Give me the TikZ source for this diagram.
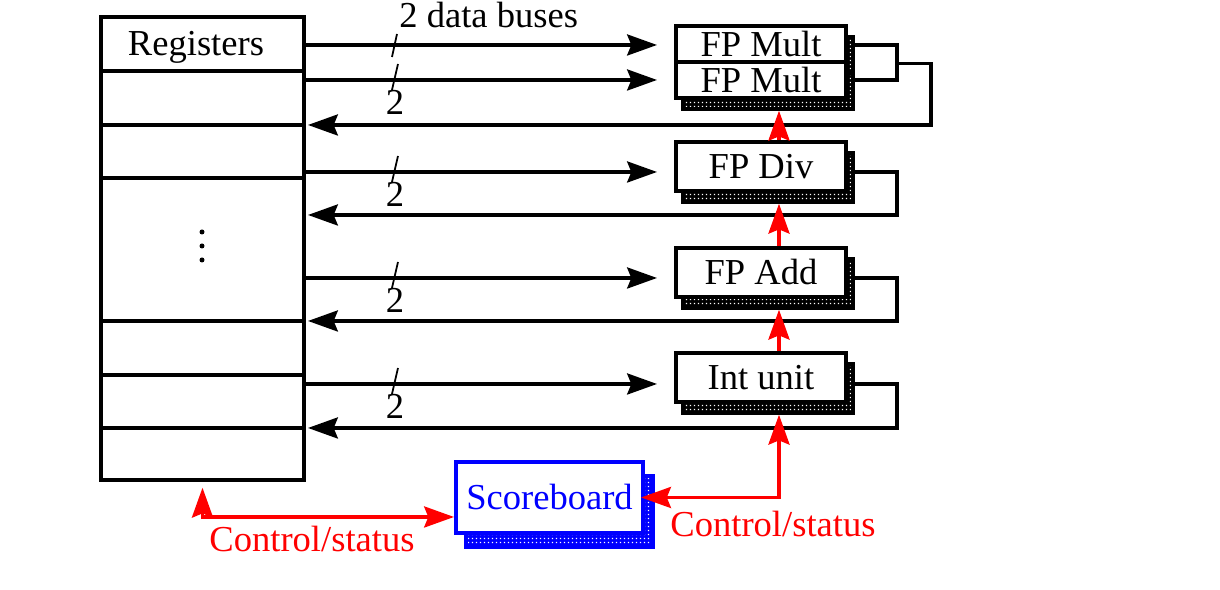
\documentclass[tikz,border=0pt]{standalone}
\usepackage{fontspec}
\setmainfont{Liberation Serif}
\usetikzlibrary{arrows.meta,shadows,patterns.meta}

\tikzdeclarepattern{
  name=speckle,
  type=uncolored,
  bottom left={(0pt,0pt)},
  top right={(1pt,1pt)},
  tile size={(1pt,1pt)},
  code={\fill (0.25pt,0.25pt) rectangle (0.7pt,0.7pt);}
}

\tikzset{
  tip/.tip={Stealth[length=8.5pt,width=6pt,inset=1.2pt]},
  unit/.style={draw, line width=1pt, fill=white, minimum width=1.7cm,
    minimum height=0.49cm, inner sep=0pt,
    general shadow={fill=black, shadow xshift=.07cm, shadow yshift=-.11cm},
    general shadow={pattern=speckle, pattern color=white, draw=black,
      line width=1.2pt, shadow xshift=.07cm, shadow yshift=-.11cm}},
  board/.style={draw=blue, text=blue, line width=1.2pt, fill=white,
    minimum width=1.87cm, minimum height=0.71cm, inner sep=0pt,
    general shadow={fill=blue, shadow xshift=.10cm, shadow yshift=-.14cm},
    general shadow={pattern=speckle, pattern color=white, draw=blue,
      line width=1.2pt, shadow xshift=.10cm, shadow yshift=-.14cm}},
  wire/.style={line width=0.9pt},
  bus/.style={wire, -tip},
  ret/.style={bus},
  slash/.style={line width=0.5pt},
  ctl/.style={red, line width=0.9pt, shorten >=.11cm, -tip},
  ctlboth/.style={ctl, tip-tip}
}

\begin{document}
\begin{tikzpicture}[font=\fontsize{10.4}{12}\selectfont]
\useasboundingbox (0,0) rectangle (12.2,5.9);

%draw register file
\node[draw, line width=1pt, minimum width=2.03cm, minimum height=4.63cm, inner sep=0pt] (regs) at (2.025,3.415) {};
\foreach \y in {5.19,4.65,4.12,2.69,2.15,1.62}
\draw[line width=1pt] (regs.west |- 0,\y) -- (regs.east |- 0,\y);
\node[anchor=base] (regname) at (1.96,5.34) {Registers};
\foreach \y in {3.58,3.44,3.30}
\fill (2.02,\y) circle (0.025);

%draw functional units
\node[unit, minimum height=0.36cm] (multa) at (7.61,5.46) {FP Mult};
\node[unit, minimum height=0.36cm] (multb) at (7.61,5.10) {FP Mult};
\node[unit] (div) at (7.61,4.235) {FP Div};
\node[unit] (add) at (7.61,3.175) {FP Add};
\node[unit] (int) at (7.61,2.125) {Int unit};
\node[board] (sb) at (5.495,0.925) {Scoreboard};

%draw data buses to the units
\foreach \u/\y in {ma/5.45,mb/5.10,dv/4.18,ad/3.12,in/2.06}{
  \coordinate (to\u) at (6.57,\y);
  \draw[bus] (regs.east |- to\u) -- (to\u);
}
\draw[slash] (3.92,5.33) -- (3.97,5.56);
\node[anchor=base west] (buslabel) at (3.87,5.62) {2 data buses};
\foreach \u/\y in {mb/5.10,dv/4.18,ad/3.12,in/2.06}{
  \draw[slash] (3.92,\y-0.10) -- (3.98,\y+0.16);
  \node[anchor=base] (two\u) at (3.95,\y-0.35) {2};
}

%draw results back to the registers
\coordinate (sx) at (8.55,0);
\coordinate (rx) at (8.97,0);
\coordinate (backma) at (3.08,4.65);
\draw[wire] (sx |- toma) -| (rx |- tomb) -- (sx |- tomb);
\draw[ret] (rx |- multa.south) -- ++(0.34,0) |- (backma);
\foreach \u/\y in {dv/3.75,ad/2.69,in/1.62}{
  \coordinate (back\u) at (3.08,\y);
  \draw[ret] (sx |- to\u) -| (rx |- back\u) -- (back\u);
}

%draw control lines
\coordinate (cx) at (7.79,0);
\draw[ctl] (int.north -| cx) -- (add.south -| cx);
\draw[ctl] (add.north -| cx) -- (div.south -| cx);
\draw[ctl] (div.north -| cx) -- (multb.south -| cx);
\draw[ctlboth, shorten <=-.04cm] (sb.east) -| (int.south -| cx);
\coordinate (lowctl) at (4.54,0.73);
\draw[ctlboth, shorten <=.06cm, shorten >=0pt] (regs.south) |- (lowctl);

\node[red, anchor=base] (csleft) at (3.12,0.38) {Control/status};
\node[red, anchor=base] (csright) at (7.73,0.53) {Control/status};
\end{tikzpicture}
\end{document}
